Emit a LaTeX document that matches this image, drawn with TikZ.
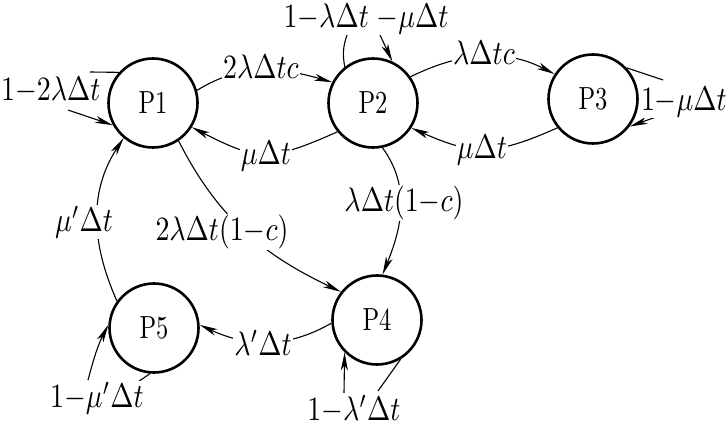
\documentclass[tikz,border=0pt]{standalone}
\usepackage{graphicx}
\usetikzlibrary{arrows.meta,calc}
\newcommand{\mylbl}[1]{\scalebox{2.79}[3.4]{$#1$}}
\newcommand{\mystate}[1]{\scalebox{2.45}[3.2]{#1}}
\begin{document}
\begin{tikzpicture}[x=1pt,y=1pt,
  state/.style={circle,draw,line width=2.6pt,minimum size=89pt,inner sep=0pt},
  lab/.style={fill=white,inner sep=1pt},
  conn/.style={line width=1.1pt},
  arr/.style={conn,-{Stealth[length=18pt,width=7pt,inset=5pt]}}]
\useasboundingbox (0,0) rectangle (728,426);
% states
\node[state] (P1) at (153,323) {\mystate{P1}};
\node[state] (P2) at (373,323) {\mystate{P2}};
\node[state] (P3) at (593,327) {\mystate{P3}};
\node[state] (P4) at (377,106) {\mystate{P4}};
\node[state] (P5) at (154,98) {\mystate{P5}};
% transitions between states
\draw[arr] (P1.16) to[out=32,in=164] (P2.153);
\draw[arr] (P2.219) to[out=204,in=333,looseness=1.3] (P1.328);
\draw[arr] (P2.35) to[out=26,in=153] (P3.147);
\draw[arr] (P3.219) to[out=204,in=336,looseness=1.2] (P2.327);
\draw[arr] (P1.304) to[out=-63,in=154.5] (P4.142);
\draw[arr] (P2.282) to[out=-54,in=68] (P4.83);
\draw[arr] (P4.184) to[out=210,in=335] (P5.4);
\draw[arr] (P5.144) to[out=114,in=237] (P1.230);
% self loops
\coordinate (a1) at (90,354); \coordinate (b1) at (68,316);
\draw[conn] (P1.138) -- (a1); \draw[arr] (b1) -- (P1.209);
\coordinate (a2) at (347,391); \coordinate (b2) at (380,391);
\draw[conn] (P2.128) to[bend left=15] (a2); \draw[arr] (b2) -- (P2.65);
\coordinate (a3) at (663,346); \coordinate (b3) at (667,313);
\draw[conn] (P3.43) -- (a3); \draw[arr] (b3) -- (P3.-37);
\coordinate (a4) at (378,35); \coordinate (b4) at (344,33);
\draw[conn] (P4.301) -- (a4); \draw[arr] (b4) -- (P4.225);
\coordinate (a5) at (132,40); \coordinate (b5) at (88,46);
\draw[conn] (P5.265) -- (a5); \draw[arr] (b5) to[out=75,in=243] (P5.176);
% labels
\node[lab,anchor=west] (l1) at (0,336) {\mylbl{1{-}2\lambda\Delta t}};
\node[lab] (l12) at (261,359) {\mylbl{2\lambda\Delta tc}};
\node[lab] (l2) at (366,407) {\mylbl{1{-}\lambda\Delta t\;{-}\mu\Delta t}};
\node[lab] (l23) at (484,373) {\mylbl{\lambda\Delta tc}};
\node[lab,anchor=east] (l3) at (728,324) {\mylbl{1{-}\mu\Delta t}};
\node[lab] (l21) at (266,270) {\mylbl{\mu\Delta t}};
\node[lab] (l32) at (482,276) {\mylbl{\mu\Delta t}};
\node[lab] (l14) at (222,194) {\mylbl{2\lambda\Delta t(1{-}c)}};
\node[lab] (l24) at (404,223) {\mylbl{\lambda\Delta t(1{-}c)}};
\node[lab] (l51) at (84,204) {\mylbl{\mu'\Delta t}};
\node[lab] (l45) at (263,83) {\mylbl{\lambda'\Delta t}};
\node[lab] (l5) at (97,28) {\mylbl{1{-}\mu'\Delta t}};
\node[lab] (l4) at (354,17) {\mylbl{1{-}\lambda'\Delta t}};
\end{tikzpicture}
\end{document}
